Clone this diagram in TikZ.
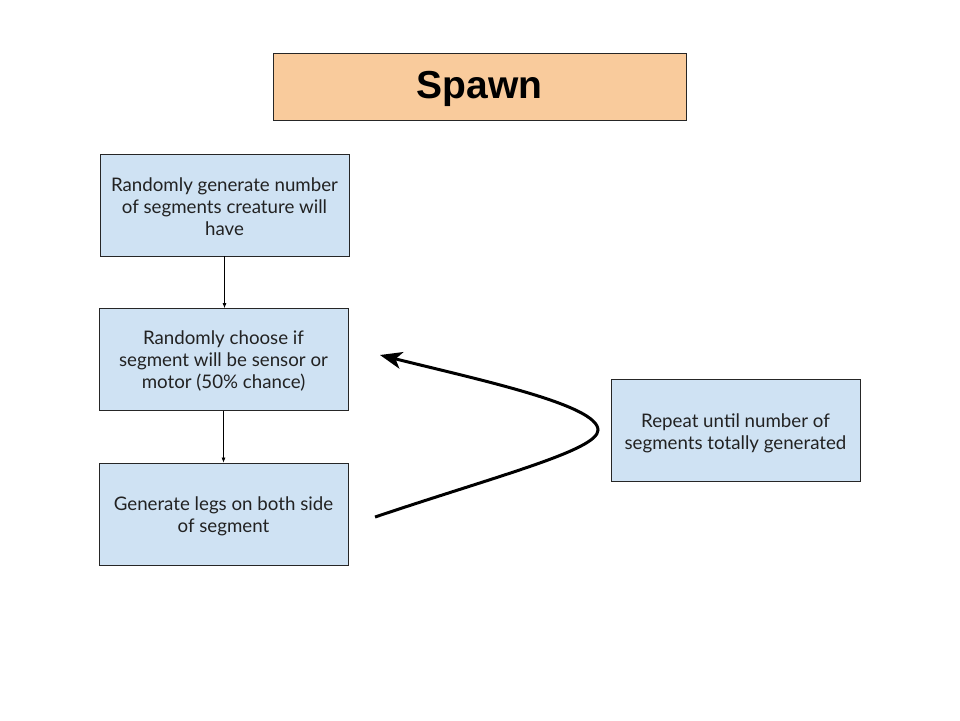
\documentclass[tikz,border=0pt]{standalone}
\usepackage{fontspec}
\setmainfont{Lato}
\newfontfamily\titlefont{Liberation Sans}
\usetikzlibrary{arrows.meta}
\definecolor{peach}{HTML}{F9CB9C}
\definecolor{lightblue}{HTML}{CFE2F3}
\definecolor{txt}{HTML}{222222}
\begin{document}
\begin{tikzpicture}[x=1pt,y=-1pt,
  box/.style={draw=black!85, line width=0.8pt, fill=lightblue, minimum width=249pt, minimum height=102pt, inner sep=0pt},
  boxtext/.style={align=center, text=txt, font=\fontsize{18.7}{22}\selectfont, inner sep=0pt},
  titlebox/.style={draw=black!85, line width=0.8pt, fill=peach, minimum width=413pt, minimum height=67pt, inner sep=0pt},
  titletext/.style={font=\titlefont\bfseries\fontsize{39}{42}\selectfont, inner sep=0pt},
  flow/.style={-{Latex[length=5pt,width=4pt]}, line width=0.7pt},
  loop/.style={-{Stealth[length=22pt,width=17pt,inset=6pt]}, line width=3pt}
]
\useasboundingbox (0,0) rectangle (960,720);
\fill[white] (0,0) rectangle (960,720);
\node[titlebox] (title) at (479.5,86.5) {};
\node[titletext] (titlelbl) at ([yshift=-2.5pt]title.center) {Spawn};
\node[box] (b1) at (224.5,205) {};
\node[boxtext] (t1) at ([yshift=-1.5pt]b1.center) {Randomly generate number\\of segments creature will\\have};
\node[box] (b2) at (223.5,359.5) {};
\node[boxtext] (t2) at ([yshift=-1.5pt]b2.center) {Randomly choose if\\segment will be sensor or\\motor (50\% chance)};
\node[box] (b3) at (223.5,514) {};
\node[boxtext] (t3) at ([yshift=-2.5pt]b3.center) {Generate legs on both side\\of segment};
\node[box] (b4) at (735.5,430.5) {};
\node[boxtext] (t4) at ([yshift=-2.5pt]b4.center) {Repeat until number of\\segments totally generated};
\draw[flow] (b1.south) -- (b1.south |- b2.north);
\draw[flow] (b2.south) -- (b3.north);
\coordinate (cstart) at (375,517);
\coordinate (cturn) at (598,430);
\coordinate (cend) at (380,355);
\draw[loop] (cstart) .. controls (500,475) and (598,450) .. (cturn)
  .. controls (598,405) and (480,380) .. (cend);
\end{tikzpicture}
\end{document}
